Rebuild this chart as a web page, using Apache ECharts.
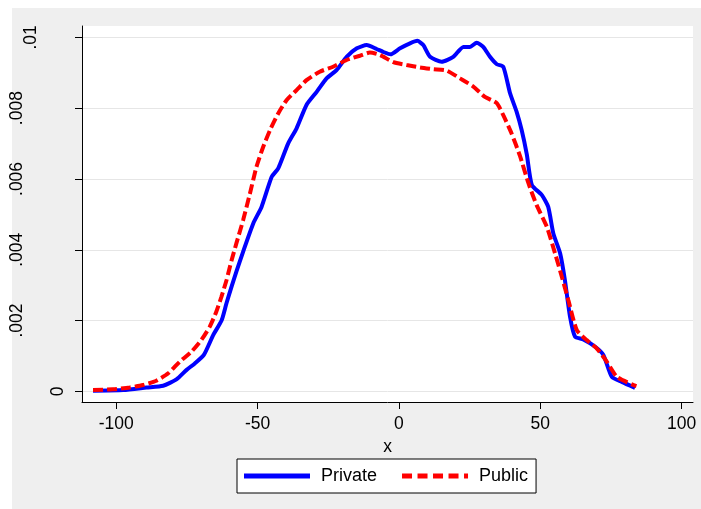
<!DOCTYPE html>
<html>
<head>
<meta charset="utf-8">
<script src="https://cdn.jsdelivr.net/npm/echarts@6/dist/echarts.min.js"></script>
<style>
html,body{margin:0;padding:0;background:#ffffff;}
#chart{width:701px;height:509px;}
</style>
</head>
<body>
<div id="chart"></div>
<script>
var privateX = [-108.2,-97.5,-89.3,-83.4,-78.7,-75.2,-72.2,-69.0,-65.7,-62.7,-61.0,-59.2,-57.5,-55.1,-51.5,-48.6,-45.0,-42.7,-39.2,-36.2,-32.7,-29.1,-25.6,-22.0,-18.5,-14.9,-11.4,-7.9,-5.6,-3.0,0.4,3.9,6.5,8.6,11.0,15.1,19.2,22.8,25.1,27.5,29.8,32.2,34.6,36.9,39.3,41.6,43.4,45.2,47.0,50.5,52.8,54.6,57.0,58.7,60.5,62.3,65.2,69.4,72.3,75.3,78.8,83.5];
var privateY = [0.00002,0.00004,0.00011,0.00016,0.00034,0.00060,0.00079,0.00103,0.00159,0.00201,0.00249,0.00296,0.00338,0.00395,0.00475,0.00521,0.00606,0.00630,0.00700,0.00743,0.00809,0.00846,0.00884,0.00908,0.00945,0.00969,0.00978,0.00967,0.00959,0.00952,0.00969,0.00983,0.00990,0.00978,0.00945,0.00931,0.00945,0.00973,0.00973,0.00985,0.00973,0.00945,0.00924,0.00917,0.00842,0.00790,0.00738,0.00670,0.00583,0.00555,0.00521,0.00446,0.00390,0.00314,0.00211,0.00154,0.00147,0.00126,0.00103,0.00041,0.00027,0.00010];
var publicX = [-108.2,-101.1,-95.2,-90.5,-85.8,-81.6,-77.5,-73.4,-69.9,-66.9,-64.6,-62.8,-61.0,-59.2,-57.5,-55.1,-52.7,-50.4,-48.0,-45.6,-42.7,-39.7,-36.2,-32.7,-28.0,-23.3,-18.5,-13.8,-10.3,-6.7,-2.0,2.7,7.4,12.1,16.9,21.6,26.3,30.4,34.6,36.9,39.8,42.8,45.8,48.7,52.3,55.2,57.6,59.9,62.9,66.4,70.0,73.5,77.1,82.9,84.0];
var publicY = [0.00004,0.00006,0.00011,0.00018,0.00030,0.00051,0.00084,0.00112,0.00145,0.00183,0.00225,0.00267,0.00314,0.00370,0.00418,0.00484,0.00559,0.00634,0.00691,0.00738,0.00785,0.00823,0.00851,0.00879,0.00903,0.00917,0.00936,0.00948,0.00957,0.00950,0.00930,0.00922,0.00915,0.00910,0.00906,0.00884,0.00861,0.00832,0.00814,0.00780,0.00729,0.00665,0.00588,0.00526,0.00465,0.00390,0.00324,0.00258,0.00173,0.00145,0.00121,0.00084,0.00041,0.00018,0.00015];
var xTicks = [-100,-50,0,50,100];
var yTicks = [0,0.002,0.004,0.006,0.008,0.01];
var yTickLabels = ['0','.002','.004','.006','.008','.01'];
var seriesNames = ['Private','Public'];

function pairs(xs, ys){ var out=[]; for(var i=0;i<xs.length;i++){ out.push([xs[i],ys[i]]); } return out; }
function yLabel(v){
  for(var i=0;i<yTicks.length;i++){
    if(Math.abs(v-yTicks[i])<1e-9){
      var t = yTickLabels[i];
      var st = t.length===1 ? 'r0' : (t.length===3 ? 'r1' : 'rl');
      return '{'+st+'|'+t+'}';
    }
  }
  return '';
}

var FONT = 'Liberation Sans, Arial, sans-serif';
var FS = 17.5;
var dashIcon = 'path://M0,0h10v5h-10z M15.5,0h10v5h-10z M31,0h10v5h-10z M46.5,0h10v5h-10z M62,0h4v5h-4z';
var solidIcon = 'path://M0,0h66v5h-66z';
var chart = echarts.init(document.getElementById('chart'), null, {renderer:'canvas'});
chart.setOption({
  animation:false,
  backgroundColor:'#ffffff',
  graphic:[{type:'rect',shape:{x:12,y:8,width:689,height:501},style:{fill:'#efefef'},z:-10}],
  grid:{left:82,right:8,top:26,bottom:107,show:true,backgroundColor:'#ffffff',borderWidth:0},
  xAxis:{
    type:'value', min:-112.1, max:104,
    name:'x', nameLocation:'middle', nameGap:30,
    nameTextStyle:{color:'#000',fontSize:FS,fontFamily:FONT},
    axisLine:{show:true,onZero:false,lineStyle:{color:'#000',width:1}},
    axisTick:{show:true,length:7,customValues:xTicks,lineStyle:{color:'#000'}},
    axisLabel:{customValues:xTicks,color:'#000',fontSize:FS,fontFamily:FONT,margin:13},
    splitLine:{show:false}
  },
  yAxis:{
    type:'value', min:-0.0003, max:0.01032,
    axisLine:{show:true,onZero:false,lineStyle:{color:'#000',width:1}},
    axisTick:{show:true,length:7,customValues:yTicks,lineStyle:{color:'#000'}},
    axisLabel:{customValues:yTicks,color:'#000',fontSize:FS,fontFamily:FONT,rotate:90,margin:12,formatter:yLabel,
      rich:{
        r0:{fontSize:FS,fontFamily:FONT,color:'#000',padding:[0,0,3,0]},
        r1:{fontSize:FS,fontFamily:FONT,color:'#000',padding:[0,0,30,0]},
        rl:{fontSize:FS,fontFamily:FONT,color:'#000',padding:[0,0,44,0]}
      }},
    splitLine:{show:true,lineStyle:{color:'#e6e6e6',width:1}}
  },
  legend:{
    left:237, top:459, orient:'horizontal',
    backgroundColor:'#ffffff', borderColor:'#000', borderWidth:1,
    padding:[8,8,8,7], itemGap:25, itemWidth:66, itemHeight:5,
    textStyle:{color:'#000',fontSize:18,fontFamily:FONT,padding:[0,0,0,6]},
    data:[{name:seriesNames[0],icon:solidIcon,itemStyle:{color:'#0000ff'}},{name:seriesNames[1],icon:dashIcon,itemStyle:{color:'#ff0000'}}]
  },
  series:[
    {name:seriesNames[0],type:'line',data:pairs(privateX,privateY),symbol:'none',smooth:0.2,
     lineStyle:{color:'#0000ff',width:4},itemStyle:{color:'#0000ff'},z:3},
    {name:seriesNames[1],type:'line',data:pairs(publicX,publicY),symbol:'none',smooth:0.2,
     lineStyle:{color:'#ff0000',width:4,type:[10,4]},itemStyle:{color:'#ff0000'},z:4}
  ]
});
</script>
</body>
</html>
